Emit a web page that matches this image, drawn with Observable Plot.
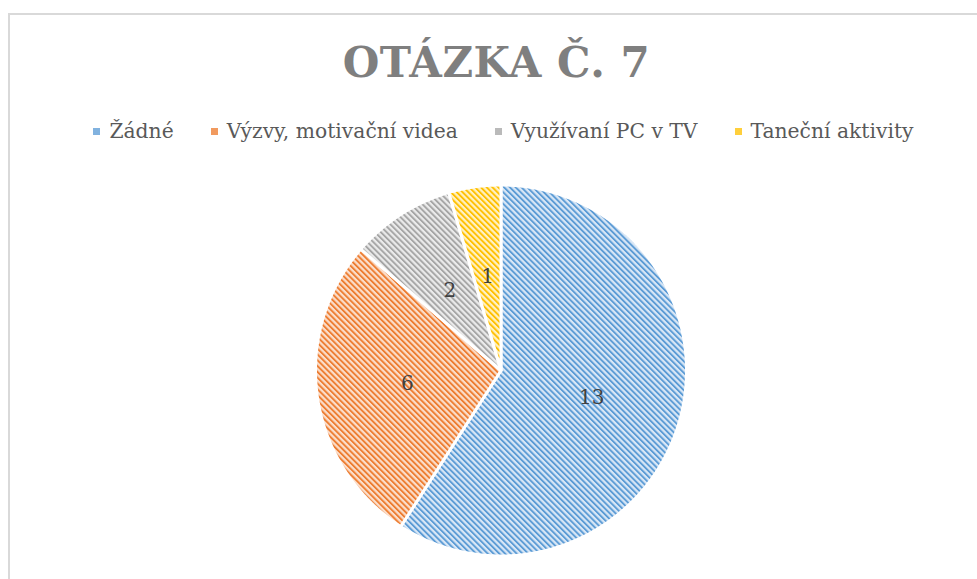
<!DOCTYPE html>
<html>
<head>
<meta charset="utf-8">
<script src="https://cdn.jsdelivr.net/npm/d3@7"></script>
<script src="https://cdn.jsdelivr.net/npm/@observablehq/plot@0.6"></script>
<style>
  html, body { margin: 0; padding: 0; background: #fff; }
  body { width: 977px; height: 579px; overflow: hidden; position: relative; font-family: "DejaVu Serif", serif; }
  #frame { position: absolute; left: 8px; top: 13px; width: 1000px; height: 620px; border: 2px solid #d9d9d9; box-sizing: border-box; }
  #title { position: absolute; left: 0; top: 31px; width: 993px; text-align: center; font-family: "DejaVu Serif", serif; font-weight: bold; font-size: 42px; letter-spacing: 0.5px; color: #7f7f7f; line-height: 64px; }
  #legend { position: absolute; left: 0; top: 116px; width: 1007px; display: flex; justify-content: center; gap: 37px; font-size: 20.3px; color: #595959; line-height: 30px; }
  .item { display: flex; align-items: center; gap: 9px; white-space: nowrap; }
  .item svg { display: block; }
  #chart { position: absolute; left: 0; top: 160px; }
</style>
</head>
<body>
<svg id="defs" width="0" height="0" style="position:absolute"><defs></defs></svg>
<div id="frame"></div>
<div id="title">OTÁZKA Č. 7</div>
<div id="legend"></div>
<div id="chart"></div>
<script>
const categories = ["Žádné", "Výzvy, motivační videa", "Využívaní PC v TV", "Taneční aktivity"];
const values = [13, 6, 2, 1];
const colors = ["#5B9BD5", "#ED7D31", "#A5A5A5", "#FFC000"];
const backgrounds = ["#d9e7f6", "#fbdecb", "#ebebeb", "#fff1c4"];

// hatch patterns (wide downward diagonal)
const defs = d3.select("#defs defs");
colors.forEach((c, i) => {
  const p = defs.append("pattern")
    .attr("id", "hatch" + i)
    .attr("patternUnits", "userSpaceOnUse")
    .attr("width", 4.1).attr("height", 4.1)
    .attr("patternTransform", "rotate(-45)");
  p.append("rect").attr("width", 4.1).attr("height", 4.1).attr("fill", backgrounds[i]);
  p.append("rect").attr("width", 1.9).attr("height", 4.1).attr("fill", c);
});

// legend
const legend = d3.select("#legend");
categories.forEach((name, i) => {
  const it = legend.append("div").attr("class", "item");
  const s = it.append("svg").attr("width", 7).attr("height", 7);
  s.append("rect").attr("width", 7).attr("height", 7).attr("fill", d3.interpolateRgb(colors[i], backgrounds[i])(0.3));
  it.append("span").text(name);
});

// pie geometry from data
const total = d3.sum(values);
const slices = [];
const labels = [];
let acc = 0;
values.forEach((v, i) => {
  const a0 = acc / total * 2 * Math.PI;
  const a1 = (acc + v) / total * 2 * Math.PI;
  acc += v;
  const fill = `url(#hatch${i})`;
  slices.push({key: i, x: 0, y: 0, fill});
  const n = Math.max(2, Math.ceil((a1 - a0) / (Math.PI / 360)));
  for (let k = 0; k <= n; k++) {
    const a = a0 + (a1 - a0) * k / n;
    slices.push({key: i, x: Math.sin(a), y: Math.cos(a), fill});
  }
  const am = (a0 + a1) / 2;
  labels.push({x: 0.51 * Math.sin(am), y: 0.51 * Math.cos(am), text: String(v)});
});

const chart = Plot.plot({
  width: 977,
  height: 419,
  margin: 0,
  style: {background: "transparent", overflow: "visible"},
  x: {domain: [-1, 1], range: [315, 686], axis: null},
  y: {domain: [-1, 1], range: [395.5, 24.5], axis: null},
  color: {type: "identity"},
  marks: [
    Plot.line(slices, {x: "x", y: "y", z: "key", fill: "fill", stroke: "white", strokeWidth: 3, curve: "linear-closed"}),
    Plot.text(labels, {x: "x", y: "y", text: "text", fontSize: 20, fill: "#404040", fontFamily: "DejaVu Serif"})
  ]
});
document.getElementById("chart").appendChild(chart);
</script>
</body>
</html>
